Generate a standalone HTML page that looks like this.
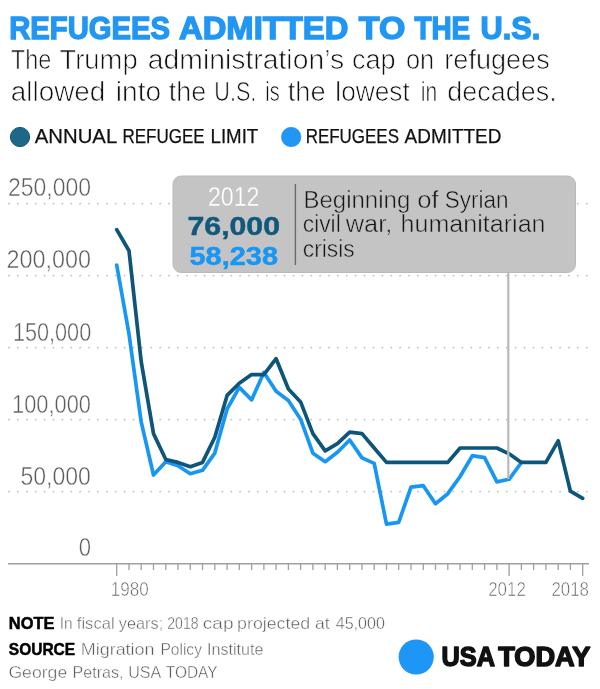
<!DOCTYPE html>
<html><head><meta charset="utf-8"><title>Refugees admitted to the U.S.</title>
<style>
html,body{margin:0;padding:0;background:#fff;}
body{width:600px;height:689px;overflow:hidden;font-family:"Liberation Sans",sans-serif;}
svg{display:block;will-change:transform;-webkit-font-smoothing:antialiased;}
text{font-family:"Liberation Sans",sans-serif;}
.ax{fill:#5c5c5c;stroke:#fff;stroke-width:0.5;}
.xl{fill:#5e5e5e;stroke:#fff;stroke-width:0.6;}
.thin{stroke:#fff;stroke-width:0.7;}
.lg{stroke:#111;stroke-width:0.25;}
.an{fill:#161616;stroke:#c4c4c4;stroke-width:0.5;}
.ft{fill:#5c5c5c;stroke:#fff;stroke-width:0.4;}
.grid line{stroke:#bcbcbc;stroke-width:1.7;stroke-dasharray:0.1 8.788;stroke-linecap:round;}
</style></head>
<body>
<svg width="600" height="689" viewBox="0 0 600 689">
<rect width="600" height="689" fill="#fff"/>
<!-- title -->
<g font-size="32" font-weight="bold" fill="#2196f3" stroke="#2196f3" stroke-width="1.4"><text x="9.20" y="39.2" textLength="160.80" lengthAdjust="spacingAndGlyphs">REFUGEES</text><text x="179.00" y="39.2" textLength="169.30" lengthAdjust="spacingAndGlyphs">ADMITTED</text><text x="358.80" y="39.2" textLength="46.50" lengthAdjust="spacingAndGlyphs">TO</text><text x="414.40" y="39.2" textLength="55.80" lengthAdjust="spacingAndGlyphs">THE</text><text x="480.60" y="39.2" textLength="59.80" lengthAdjust="spacingAndGlyphs">U.S.</text></g>
<text class="thin" x="10.80" y="69.0" font-size="27" textLength="40.50" lengthAdjust="spacingAndGlyphs" fill="#111">The</text><text class="thin" x="59.40" y="69.0" font-size="27" textLength="78.30" lengthAdjust="spacingAndGlyphs" fill="#111">Trump</text><text class="thin" x="147.80" y="69.0" font-size="27" textLength="196.31" lengthAdjust="spacingAndGlyphs" fill="#111">administration’s</text><text class="thin" x="351.90" y="69.0" font-size="27" textLength="43.81" lengthAdjust="spacingAndGlyphs" fill="#111">cap</text><text class="thin" x="405.90" y="69.0" font-size="27" textLength="28.21" lengthAdjust="spacingAndGlyphs" fill="#111">on</text><text class="thin" x="444.30" y="69.0" font-size="27" textLength="105.39" lengthAdjust="spacingAndGlyphs" fill="#111">refugees</text>
<text class="thin" x="10.80" y="100.5" font-size="27" textLength="94.50" lengthAdjust="spacingAndGlyphs" fill="#111">allowed</text><text class="thin" x="115.80" y="100.5" font-size="27" textLength="45.31" lengthAdjust="spacingAndGlyphs" fill="#111">into</text><text class="thin" x="168.70" y="100.5" font-size="27" textLength="37.50" lengthAdjust="spacingAndGlyphs" fill="#111">the</text><text class="thin" x="214.30" y="100.5" font-size="27" textLength="42.00" lengthAdjust="spacingAndGlyphs" fill="#111">U.S.</text><text class="thin" x="265.30" y="100.5" font-size="27" textLength="14.40" lengthAdjust="spacingAndGlyphs" fill="#111">is</text><text class="thin" x="287.80" y="100.5" font-size="27" textLength="37.90" lengthAdjust="spacingAndGlyphs" fill="#111">the</text><text class="thin" x="335.30" y="100.5" font-size="27" textLength="74.41" lengthAdjust="spacingAndGlyphs" fill="#111">lowest</text><text class="thin" x="420.80" y="100.5" font-size="27" textLength="16.41" lengthAdjust="spacingAndGlyphs" fill="#111">in</text><text class="thin" x="447.30" y="100.5" font-size="27" textLength="109.39" lengthAdjust="spacingAndGlyphs" fill="#111">decades.</text>
<!-- legend -->
<circle cx="20" cy="137" r="9.6" fill="#1d6787" stroke="#0c5577" stroke-width="1"/>
<text class="lg" x="34.7" y="143.2" font-size="20.4" fill="#111" textLength="82.5" lengthAdjust="spacingAndGlyphs">ANNUAL</text><text class="lg" x="122.5" y="143.2" font-size="20.4" fill="#111" textLength="82.2" lengthAdjust="spacingAndGlyphs">REFUGEE</text><text class="lg" x="210.5" y="143.2" font-size="20.4" fill="#111" textLength="47.8" lengthAdjust="spacingAndGlyphs">LIMIT</text>
<circle cx="291.2" cy="137" r="9.8" fill="#2196f3" stroke="#1e90f5" stroke-width="0.6"/>
<text class="lg" x="305.7" y="143.2" font-size="20.4" fill="#111" textLength="93.3" lengthAdjust="spacingAndGlyphs">REFUGEES</text><text class="lg" x="404.6" y="143.2" font-size="20.4" fill="#111" textLength="96.7" lengthAdjust="spacingAndGlyphs">ADMITTED</text>
<!-- grid -->
<g class="grid"><line x1="9" x2="588" y1="491.6" y2="491.6"/><line x1="9" x2="588" y1="419.6" y2="419.6"/><line x1="9" x2="588" y1="347.6" y2="347.6"/><line x1="9" x2="588" y1="275.6" y2="275.6"/><line x1="9" x2="588" y1="203.6" y2="203.6"/></g>
<!-- y labels -->
<text class="ax" x="7.90" y="196.0" font-size="26.5" textLength="83.09" lengthAdjust="spacingAndGlyphs">250,000</text>
<text class="ax" x="6.50" y="268.3" font-size="26.5" textLength="84.49" lengthAdjust="spacingAndGlyphs">200,000</text>
<text class="ax" x="12.90" y="341.0" font-size="26.5" textLength="78.29" lengthAdjust="spacingAndGlyphs">150,000</text>
<text class="ax" x="12.10" y="412.5" font-size="26.5" textLength="78.79" lengthAdjust="spacingAndGlyphs">100,000</text>
<text class="ax" x="20.40" y="485.0" font-size="26.5" textLength="70.49" lengthAdjust="spacingAndGlyphs">50,000</text>
<text class="ax" x="78.70" y="556.0" font-size="26.5" textLength="12.30" lengthAdjust="spacingAndGlyphs">0</text>
<!-- axis -->
<line x1="8" x2="589" y1="563.7" y2="563.7" stroke="#a0a0a0" stroke-width="1.5"/>
<path d="M116.7,563 V576 M129.0,563 V570 M141.2,563 V570 M153.5,563 V570 M165.8,563 V570 M178.0,563 V570 M190.3,563 V570 M202.5,563 V570 M214.8,563 V570 M227.1,563 V570 M239.3,563 V570 M251.6,563 V570 M263.9,563 V570 M276.1,563 V570 M288.4,563 V570 M300.6,563 V570 M312.9,563 V570 M325.2,563 V570 M337.4,563 V570 M349.7,563 V570 M362.0,563 V570 M374.2,563 V570 M386.5,563 V570 M398.7,563 V570 M411.0,563 V570 M423.3,563 V570 M435.5,563 V570 M447.8,563 V570 M460.1,563 V570 M472.3,563 V570 M484.6,563 V570 M496.9,563 V570 M509.1,563 V576 M521.4,563 V570 M533.6,563 V570 M545.9,563 V570 M558.2,563 V570 M570.4,563 V570 M582.7,563 V576 " stroke="#a0a0a0" stroke-width="1.3" fill="none"/>
<text class="xl" x="110.75" y="596.2" font-size="20.6" textLength="37.99" lengthAdjust="spacingAndGlyphs">1980</text><text class="xl" x="488.15" y="596.2" font-size="20.6" textLength="37.69" lengthAdjust="spacingAndGlyphs">2012</text><text class="xl" x="551.45" y="596.2" font-size="20.6" textLength="37.59" lengthAdjust="spacingAndGlyphs">2018</text>
<!-- series -->
<path d="M116.7,265.0 L129.0,333.9 L141.2,421.9 L153.5,475.0 L165.8,461.8 L178.0,465.7 L190.3,473.7 L202.5,470.3 L214.8,453.1 L227.1,409.0 L239.3,387.4 L251.6,399.9 L263.9,372.4 L276.1,391.2 L288.4,400.5 L300.6,419.2 L312.9,453.2 L325.2,461.7 L337.4,452.2 L349.7,440.0 L362.0,457.9 L374.2,463.4 L386.5,524.1 L398.7,522.3 L411.0,487.1 L423.3,485.7 L435.5,503.8 L447.8,493.7 L460.1,476.5 L472.3,455.7 L484.6,457.6 L496.9,481.9 L509.1,479.3 L521.4,462.5" fill="none" stroke="#1896f4" stroke-width="3.7" stroke-linejoin="round" stroke-linecap="round"/>
<path d="M116.7,229.6 L129.0,250.7 L141.2,361.6 L153.5,433.6 L165.8,459.5 L178.0,462.4 L190.3,466.7 L202.5,462.4 L214.8,437.2 L227.1,395.4 L239.3,383.2 L251.6,374.6 L263.9,374.6 L276.1,358.7 L288.4,389.0 L300.6,401.9 L312.9,433.6 L325.2,450.9 L337.4,443.7 L349.7,432.2 L362.0,433.6 L374.2,448.0 L386.5,462.4 L398.7,462.4 L411.0,462.4 L423.3,462.4 L435.5,462.4 L447.8,462.4 L460.1,448.0 L472.3,448.0 L484.6,448.0 L496.9,448.0 L509.1,453.8 L521.4,462.4 L533.6,462.4 L545.9,462.4 L558.2,440.8 L570.4,491.2 L582.7,498.4" fill="none" stroke="#0e5679" stroke-width="3.7" stroke-linejoin="round" stroke-linecap="round"/>
<!-- callout line -->
<line x1="508.3" x2="508.3" y1="270" y2="479" stroke="#b8b8b8" stroke-width="2.2"/>
<!-- tooltip -->
<rect x="173" y="176" width="402.5" height="96.5" rx="8.2" ry="8.2" fill="#c4c4c4" stroke="#b9b9b9" stroke-width="1"/>
<line x1="295.4" x2="295.4" y1="184" y2="265" stroke="#6a6a6a" stroke-width="1.4"/>
<text x="208" y="206.3" font-size="28" fill="#fff" stroke="#c4c4c4" stroke-width="0.3" textLength="51.5" lengthAdjust="spacingAndGlyphs">2012</text>
<text x="187.5" y="235.3" font-size="26" font-weight="bold" fill="#12587b" stroke="#12587b" stroke-width="0.5" textLength="92.5" lengthAdjust="spacingAndGlyphs">76,000</text>
<text x="189.5" y="264.6" font-size="26" font-weight="bold" fill="#1896f4" stroke="#1896f4" stroke-width="0.5" textLength="88.5" lengthAdjust="spacingAndGlyphs">58,238</text>
<text class="an" x="303.45" y="207.6" font-size="23" textLength="106.81" lengthAdjust="spacingAndGlyphs">Beginning</text><text class="an" x="417.25" y="207.6" font-size="23" textLength="21.45" lengthAdjust="spacingAndGlyphs">of</text><text class="an" x="444.75" y="207.6" font-size="23" textLength="63.79" lengthAdjust="spacingAndGlyphs">Syrian</text>
<text class="an" x="302.75" y="231.8" font-size="23" textLength="37.99" lengthAdjust="spacingAndGlyphs">civil</text><text class="an" x="345.80" y="231.8" font-size="23" textLength="46.45" lengthAdjust="spacingAndGlyphs">war,</text><text class="an" x="400.55" y="231.8" font-size="23" textLength="145.01" lengthAdjust="spacingAndGlyphs">humanitarian</text>
<text class="an" x="302.75" y="256.6" font-size="23" textLength="52.01" lengthAdjust="spacingAndGlyphs">crisis</text>
<!-- footer -->
<text x="8.8" y="629.3" font-size="16.6" font-weight="bold" fill="#000" stroke="#000" stroke-width="0.5" textLength="45.7" lengthAdjust="spacingAndGlyphs">NOTE</text>
<text class="ft" x="59.80" y="629.3" font-size="16.5" textLength="12.80" lengthAdjust="spacingAndGlyphs">In</text><text class="ft" x="76.80" y="629.3" font-size="16.5" textLength="37.81" lengthAdjust="spacingAndGlyphs">fiscal</text><text class="ft" x="118.80" y="629.3" font-size="16.5" textLength="44.40" lengthAdjust="spacingAndGlyphs">years;</text><text class="ft" x="167.30" y="629.3" font-size="16.5" textLength="31.19" lengthAdjust="spacingAndGlyphs">2018</text><text class="ft" x="202.80" y="629.3" font-size="16.5" textLength="30.71" lengthAdjust="spacingAndGlyphs">cap</text><text class="ft" x="237.10" y="629.3" font-size="16.5" textLength="73.10" lengthAdjust="spacingAndGlyphs">projected</text><text class="ft" x="315.10" y="629.3" font-size="16.5" textLength="14.60" lengthAdjust="spacingAndGlyphs">at</text><text class="ft" x="335.70" y="629.3" font-size="16.5" textLength="49.19" lengthAdjust="spacingAndGlyphs">45,000</text>
<text x="8.8" y="655.2" font-size="16.6" font-weight="bold" fill="#000" stroke="#000" stroke-width="0.5" textLength="66.3" lengthAdjust="spacingAndGlyphs">SOURCE</text>
<text class="ft" x="80.80" y="655.2" font-size="16.5" textLength="73.70" lengthAdjust="spacingAndGlyphs">Migration</text><text class="ft" x="160.50" y="655.2" font-size="16.5" textLength="41.39" lengthAdjust="spacingAndGlyphs">Policy</text><text class="ft" x="207.10" y="655.2" font-size="16.5" textLength="56.40" lengthAdjust="spacingAndGlyphs">Institute</text>
<text class="ft" x="8.40" y="677.8" font-size="16.5" textLength="58.81" lengthAdjust="spacingAndGlyphs">George</text><text class="ft" x="72.60" y="677.8" font-size="16.5" textLength="51.00" lengthAdjust="spacingAndGlyphs">Petras,</text><text class="ft" x="128.20" y="677.8" font-size="16.5" textLength="33.00" lengthAdjust="spacingAndGlyphs">USA</text><text class="ft" x="165.80" y="677.8" font-size="16.5" textLength="51.69" lengthAdjust="spacingAndGlyphs">TODAY</text>
<!-- logo -->
<circle cx="416.2" cy="657" r="17.6" fill="#1e96f5"/>
<g font-size="27.4" font-weight="bold" fill="#111" stroke="#111" stroke-width="1.5" stroke-linejoin="round">
<text x="441.6" y="666.2" textLength="53.4" lengthAdjust="spacingAndGlyphs">USA</text>
<text x="498.2" y="666.2" textLength="92.2" lengthAdjust="spacingAndGlyphs">TODAY</text>
</g>
</svg>
</body></html>
